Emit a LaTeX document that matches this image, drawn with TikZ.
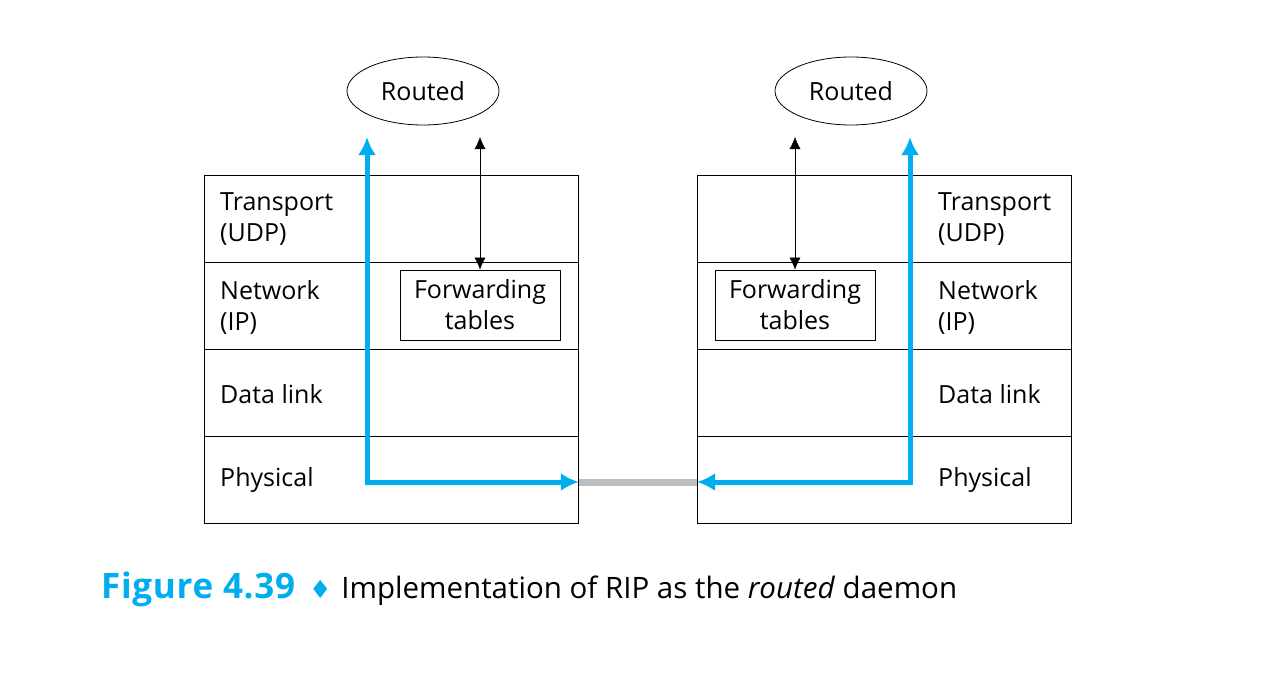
\documentclass[tikz,border=0pt]{standalone}
\usepackage{fontspec}
\setmainfont{Open Sans}
\newfontfamily\symfont{DejaVu Sans}
\usetikzlibrary{shapes.geometric,arrows.meta}
\definecolor{ripblue}{HTML}{00AEEF}
\definecolor{wiregray}{HTML}{BBBDC0}
\tikzset{>={Latex[length=12pt,width=11pt]}}
\tikzset{layer/.style={draw,thick,minimum width=374pt,minimum height=87pt,anchor=north west,inner sep=0pt},
  lbl/.style={anchor=west,align=left,font=\fontsize{25}{31}\selectfont,inner sep=0pt},
  daemon/.style={ellipse,draw,thick,minimum width=152pt,minimum height=68pt,inner sep=0pt,font=\fontsize{25}{28}\selectfont},
  fwd/.style={draw,thick,minimum width=160pt,minimum height=70pt,align=center,font=\fontsize{25}{31}\selectfont,inner sep=0pt},
  msg/.style={line width=5pt,ripblue,{Latex[length=18pt,width=18pt]}-{Latex[length=18pt,width=18pt]}}}

\begin{document}
\begin{tikzpicture}[x=1pt,y=-1pt]
    \useasboundingbox (0,0) rectangle (1276,674);
    % left and right host
    \foreach \r/\y in {1/175,2/262,3/349,4/436}{
        \node[layer] (L\r) at (204,\y) {};
        \node[layer] (R\r) at (697,\y) {};
    }
    \node[lbl] (lt) at (220,219) {Transport\\(UDP)};
    \node[lbl] (ln) at (220,307) {Network\\(IP)};
    \node[lbl] (ld) at (220,394) {Data link};
    \node[lbl] (lp) at (220,480) {Physical};
    \node[lbl] (rt) at (938,219) {Transport\\(UDP)};
    \node[lbl] (rn) at (938,307) {Network\\(IP)};
    \node[lbl] (rd) at (938,394) {Data link};
    \node[lbl] (rp) at (938,480) {Physical};
    \node[fwd] (fwdL) at (480,305) {Forwarding\\tables};
    \node[fwd] (fwdR) at (795,305) {Forwarding\\tables};
    \node[daemon] (routedL) at (423,91) {Routed};
    \node[daemon] (routedR) at (851,91) {Routed};
    \coordinate (aL) at (fwdL.north |- 0,137);
    \coordinate (aR) at (fwdR.north |- 0,137);
    \draw[<->] (aL)--(fwdL.north);
    \draw[<->] (aR)--(fwdR.north);
    % wire and RIP messages
    \coordinate (pL) at (L4.east |- 0,482);
    \coordinate (pR) at (R4.west |- 0,482);
    \draw[wiregray,line width=7pt] (pL)--(pR);
    \coordinate (upL) at (367,137);
    \coordinate (upR) at (910,137);
    \draw[msg] (upL)--(upL|-pL)--(pL);
    \draw[msg] (upR)--(upR|-pR)--(pR);
    \node[anchor=west,inner sep=0pt,font=\fontsize{29.5}{36}\selectfont] (cap) at (101,589)
        {\textcolor{ripblue}{\fontsize{35}{40}\selectfont\bfseries\addfontfeature{LetterSpace=2}Figure 4.39}\hspace{14pt}\textcolor{ripblue}{\symfont\fontsize{25}{28}\selectfont ♦}\hspace{10pt}Implementation of RIP as the \textit{routed} daemon};
\end{tikzpicture}
\end{document}
